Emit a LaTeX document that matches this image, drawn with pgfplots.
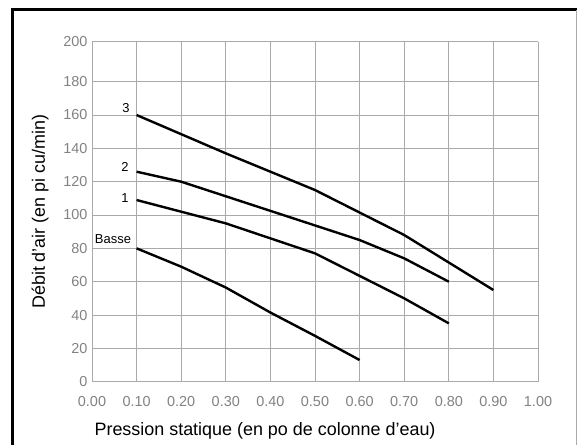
\documentclass[border=0pt]{standalone}
\usepackage{fontspec}
\setmainfont{Liberation Sans}
\usepackage{pgfplots}
\pgfplotsset{compat=1.18}
\definecolor{gridgray}{RGB}{170,170,170}
\definecolor{ticklab}{RGB}{130,130,130}
\begin{document}
\begin{tikzpicture}[x=1bp,y=1bp]
\useasboundingbox (0,0) rectangle (577,445);
% frame
\draw[line width=3bp,black] (12,0) -- (12,435) -- (577,435);
\draw[line width=0.8bp,gridgray] (576,0) -- (576,435);
\begin{axis}[
  at={(92bp,63.3bp)}, anchor=south west,
  scale only axis, width=446bp, height=340bp,
  xmin=0, xmax=1, ymin=0, ymax=204,
  xtick={0,0.1,...,1.01},
  ytick={0,20,40,60,80,100,120,140,160,180,204},
  yticklabels={0,20,40,60,80,100,120,140,160,180,200},
  xticklabel={\pgfmathprintnumber[fixed,fixed zerofill,precision=2]{\tick}},
  /pgf/number format/assume math mode=true,
  grid=major, major grid style={gridgray,line width=0.8bp},
  axis line style={gridgray,line width=0.8bp},
  axis x line*=bottom, axis y line*=left,
  major tick length=0pt,
  tick label style={ticklab,font=\fontsize{14.5}{16}\selectfont},
  xticklabel style={yshift=-11bp},
  yticklabel style={xshift=-1bp},
  xlabel={Pression statique (en po de colonne d'eau)},
  ylabel={Débit d'air (en pi cu/min)},
  label style={font=\fontsize{18}{20}\selectfont},
  xlabel style={at={(ticklabel cs:0.388)},anchor=north,yshift=-9bp},
  ylabel style={yshift=8bp},
  clip=false,
]
\addplot[black,line width=2.4bp] coordinates {(0.1,160) (0.3,137) (0.5,115) (0.7,88) (0.9,55)};
\addplot[black,line width=2.4bp] coordinates {(0.1,126) (0.2,120) (0.6,85) (0.7,74) (0.8,60)};
\addplot[black,line width=2.4bp] coordinates {(0.1,109) (0.3,95) (0.5,77) (0.7,50) (0.8,35)};
\addplot[black,line width=2.4bp] coordinates {(0.1,80) (0.2,69) (0.3,56.5) (0.4,41.5) (0.5,27.5) (0.6,13)};
\node[font=\fontsize{13}{15}\selectfont] at (axis cs:0.076,164) {3};
\node[font=\fontsize{13}{15}\selectfont] at (axis cs:0.074,129) {2};
\node[font=\fontsize{13}{15}\selectfont] at (axis cs:0.074,110) {1};
\node[font=\fontsize{13}{15}\selectfont] at (axis cs:0.047,85.6) {Basse};
\end{axis}
\end{tikzpicture}
\end{document}
